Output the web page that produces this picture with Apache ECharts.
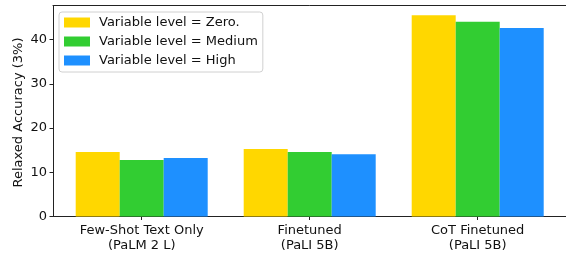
<!DOCTYPE html>
<html>
<head>
<meta charset="utf-8">
<script src="https://cdn.jsdelivr.net/npm/echarts@6/dist/echarts.min.js"></script>
<style>
  html, body { margin: 0; padding: 0; background: #fff; }
  #chart { width: 566px; height: 253px; }
</style>
</head>
<body>
<div id="chart"></div>
<script>
var categories = ['Few-Shot Text Only\n(PaLM 2 L)', 'Finetuned\n(PaLI 5B)', 'CoT Finetuned\n(PaLI 5B)'];
var seriesNames = ['Variable level = Zero.', 'Variable level = Medium', 'Variable level = High'];
var zeroValues = [14.6, 15.25, 45.5];
var mediumValues = [12.8, 14.6, 44.0];
var highValues = [13.2, 14.1, 42.6];
var yTicks = [0, 10, 20, 30, 40];
var colors = ['#FFD700', '#32CD32', '#1E90FF'];

var FONT = 'DejaVu Sans';
var yMax = 47.7;
var spine = { show: true, lineStyle: { color: '#222', width: 1 } };

var myChart = echarts.init(document.getElementById('chart'));

var option = {
    animation: false,
    textStyle: { fontFamily: FONT },
    grid: [
        // frame + y axis (right spine falls outside the picture)
        { left: 53, right: -30, top: 5.5, bottom: 36.5, outerBoundsMode: 'none' },
        // bars
        { left: 57.7, right: 4.3, top: 5.5, bottom: 36.5, outerBoundsMode: 'none' }
    ],
    legend: {
        orient: 'vertical',
        left: 59,
        top: 12,
        icon: 'rect',
        itemWidth: 26,
        itemHeight: 10,
        itemGap: 4,
        padding: [3, 5, 4, 5],
        borderColor: '#d0d0d0',
        borderWidth: 1,
        borderRadius: 3,
        backgroundColor: 'rgba(255,255,255,0.8)',
        textStyle: { fontFamily: FONT, fontSize: 13, color: '#111', lineHeight: 15, padding: [0, 0, 0, 4] },
        data: seriesNames
    },
    xAxis: [
        {
            type: 'value', gridIndex: 0, min: 0, max: 1, position: 'bottom',
            axisLine: spine, axisTick: { show: false },
            axisLabel: { show: false }, splitLine: { show: false }
        },
        {
            type: 'value', gridIndex: 0, min: 0, max: 1, position: 'top',
            axisLine: spine, axisTick: { show: false },
            axisLabel: { show: false }, splitLine: { show: false }
        },
        {
            type: 'category', gridIndex: 1, data: categories,
            axisLine: { show: false },
            axisTick: { show: true, alignWithLabel: true, length: 3.5, lineStyle: { color: '#222' } },
            axisLabel: { fontFamily: FONT, fontSize: 13, color: '#111', margin: 7, lineHeight: 15 },
            splitLine: { show: false }
        }
    ],
    yAxis: [
        {
            type: 'value', gridIndex: 0, min: 0, max: yMax, interval: 10,
            name: 'Relaxed Accuracy (3%)',
            nameLocation: 'middle',
            nameGap: 28,
            nameMoveOverlap: false,
            nameTextStyle: { fontFamily: FONT, fontSize: 13, color: '#111', padding: [0, 3, 0, 0] },
            axisLine: spine,
            axisTick: { show: true, length: 3.5, lineStyle: { color: '#222' } },
            axisLabel: {
                fontFamily: FONT, fontSize: 13, color: '#111', margin: 6,
                showMaxLabel: false,
                formatter: function (v) { return yTicks.indexOf(v) >= 0 ? String(v) : ''; }
            },
            splitLine: { show: false }
        },
        {
            type: 'value', gridIndex: 1, min: 0, max: yMax,
            axisLine: { show: false }, axisTick: { show: false },
            axisLabel: { show: false }, splitLine: { show: false }
        }
    ],
    series: [
        { name: seriesNames[0], type: 'bar', xAxisIndex: 2, yAxisIndex: 1, data: zeroValues, barWidth: 44, barGap: '0%', itemStyle: { color: colors[0] } },
        { name: seriesNames[1], type: 'bar', xAxisIndex: 2, yAxisIndex: 1, data: mediumValues, barWidth: 44, barGap: '0%', itemStyle: { color: colors[1] } },
        { name: seriesNames[2], type: 'bar', xAxisIndex: 2, yAxisIndex: 1, data: highValues, barWidth: 44, barGap: '0%', itemStyle: { color: colors[2] } }
    ]
};

myChart.setOption(option);
</script>
</body>
</html>
